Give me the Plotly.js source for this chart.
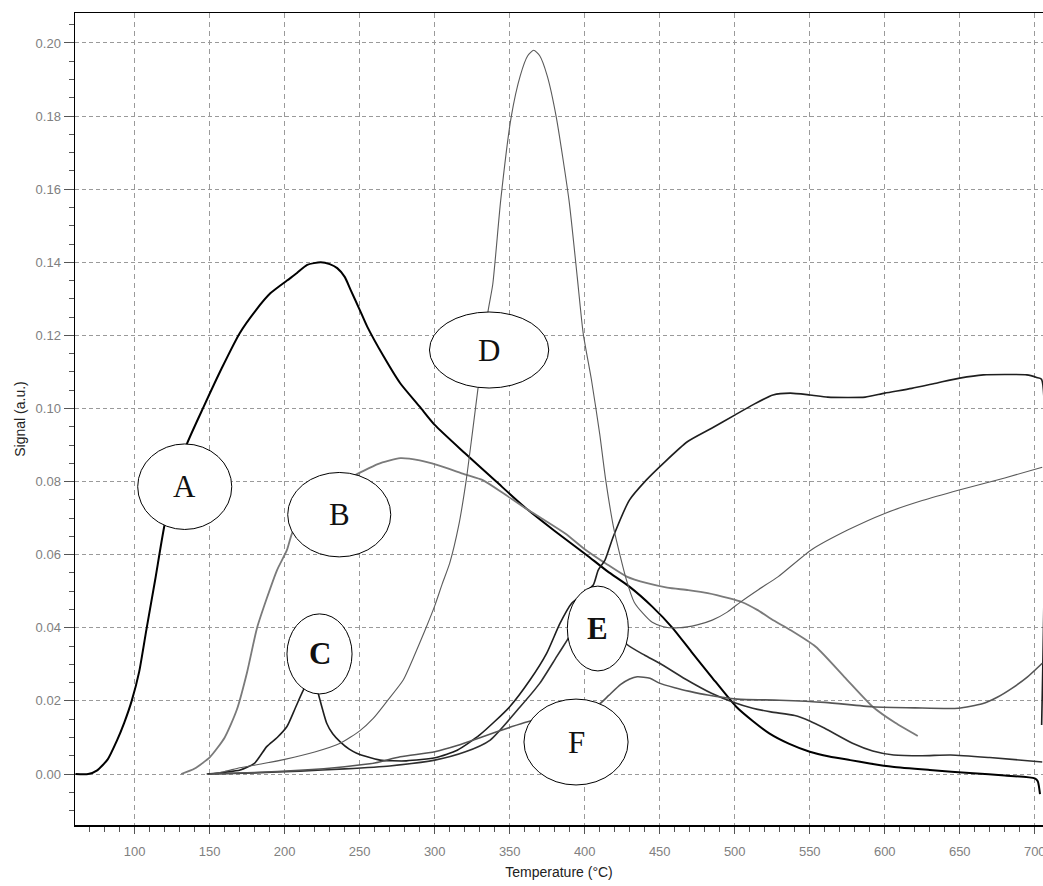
<!DOCTYPE html>
<html>
<head>
<meta charset="utf-8">
<script src="https://cdn.plot.ly/plotly-3.0.1.min.js"></script>
<style>html,body{margin:0;padding:0;background:#fff;}#chart{width:1043px;height:886px;}</style>
</head>
<body>
<div id="chart"></div>
<script>
// ---- data ----
const tA = [60.5,69,75,82,88,93,98,103,108,113.6,119.8,128,135,146,158,170,181,190.4,201.5,208,215,224,230,235,240,244,250,255,266,277,290,300,320,341,360,380,401,415,430,445,458.5,471,484.5,501,512,523,536,550,563,577,590,605,630,659,680,700,702,703.5];
const sA = [0,0,0.001,0.004,0.009,0.014,0.020,0.028,0.040,0.053,0.0679,0.082,0.0905,0.1005,0.111,0.1206,0.127,0.1315,0.135,0.137,0.1393,0.140,0.1395,0.1384,0.136,0.1324,0.127,0.1224,0.1142,0.1069,0.1005,0.0955,0.0878,0.080,0.073,0.0665,0.060,0.0555,0.0512,0.0458,0.040,0.0335,0.0266,0.0184,0.0145,0.0111,0.0083,0.0061,0.0048,0.0038,0.0029,0.002,0.0011,0.0002,-0.0004,-0.0012,-0.002,-0.0055];

const tB = [131,140,150.3,160,168,175,181.5,188,194.9,201.5,205,215,230,247,262,277,290,302,320,332,345,359,373,387,400,414,428,441.6,455,469,482,496,505,515,526,537,554,573,592,607,622];
const sB = [0,0.0015,0.0047,0.010,0.0175,0.028,0.0399,0.048,0.0558,0.0613,0.0660,0.073,0.079,0.0818,0.0848,0.0864,0.0858,0.0845,0.082,0.0804,0.077,0.0731,0.0695,0.0658,0.0615,0.0576,0.054,0.0522,0.051,0.0503,0.0495,0.0481,0.047,0.0449,0.042,0.0394,0.0348,0.0266,0.0184,0.014,0.0104];

const tC = [148,160,170.3,180,188,195,201.5,207,212.5,217,220,222.5,228,232,237,243,248,255,263.5,281,301,315,330,350,363.5,374.6,383.5,391.3,398,405.7,409,413.5,419,429.9,441,452.4,468.4,484.6,500,512,525.5,537,550,562,575,587,600,618,635,650,665.7,680,694.7,701.3,704.5,704.6];
const sC = [0,0.0005,0.0011,0.003,0.0075,0.0100,0.013,0.018,0.023,0.026,0.0255,0.0218,0.0139,0.011,0.0088,0.0068,0.0057,0.0047,0.0038,0.0036,0.0045,0.0065,0.0107,0.0184,0.0257,0.033,0.0412,0.0467,0.049,0.0517,0.0558,0.0585,0.0649,0.075,0.0804,0.085,0.0909,0.0946,0.0982,0.101,0.1037,0.1042,0.1037,0.1031,0.1030,0.1031,0.1042,0.1055,0.107,0.1083,0.1092,0.1093,0.1092,0.1085,0.108,0.0134];

const tD = [150,160,170,185,200,220,237,250,259,268,279,286,293.6,300,305,310,316,321,325,329,335.5,338.7,344,351,357,362,366,370,375,381,389.5,395,399,404.5,410,414,419.6,427.8,433,438.7,445,452.4,463,475,485,495,504,516,529,551,575.6,600,625,649.6,680,705];
const sD = [0,0.0007,0.0017,0.0028,0.0040,0.0060,0.0084,0.0118,0.0152,0.0198,0.0257,0.032,0.0394,0.046,0.052,0.0577,0.068,0.0804,0.093,0.106,0.1265,0.134,0.157,0.1798,0.191,0.1965,0.198,0.1965,0.191,0.1798,0.157,0.136,0.1205,0.1078,0.093,0.0804,0.0667,0.0531,0.047,0.044,0.0415,0.0403,0.040,0.0408,0.0421,0.0443,0.0471,0.0505,0.054,0.0613,0.0668,0.0713,0.0748,0.0777,0.081,0.0839];

const tE = [150,180,210,240,270,300,320,337,357,370,381.3,388.4,395,403,410,418,428,440,450,467,484.5,500,512,524,540,550,560,578.5,592,606,625,644,670,705];
const sE = [0,0.0003,0.0008,0.0014,0.0022,0.0038,0.006,0.0093,0.0184,0.0248,0.0321,0.0367,0.041,0.044,0.045,0.041,0.0355,0.0325,0.0303,0.026,0.0221,0.0195,0.018,0.017,0.016,0.0145,0.0125,0.0084,0.0063,0.0052,0.005,0.0052,0.0045,0.0033];

const tF = [150,180,210,240,260,277,300,315,332,351,362,380,398,410.2,416,424,430,435,443.5,449,460,470,482,501.7,530,560,592,620,649,665,675,685,695,705];
const sF = [0,0.0004,0.001,0.002,0.003,0.0047,0.0061,0.0078,0.0102,0.0129,0.0143,0.016,0.0175,0.0193,0.0215,0.0245,0.026,0.0266,0.0262,0.025,0.0236,0.0226,0.0216,0.0205,0.0202,0.0196,0.0184,0.0181,0.018,0.0192,0.021,0.0235,0.0265,0.0303];

const labelNames = ['A','B','C','D','E','F'];
const xTitle = 'Temperature (°C)';
const yTitle = 'Signal (a.u.)';

// ---- styling / label placement ----
const lineStyles = [
  {x:tA, y:sA, color:'#000000', width:2},
  {x:tB, y:sB, color:'#7a7a7a', width:1.8},
  {x:tC, y:sC, color:'#1e1e1e', width:1.6},
  {x:tD, y:sD, color:'#5a5a5a', width:1.1},
  {x:tE, y:sE, color:'#2e2e2e', width:1.6},
  {x:tF, y:sF, color:'#555555', width:1.6}
];
const traces = lineStyles.map((s,i)=>({
  type:'scatter', mode:'lines', x:s.x, y:s.y, name:labelNames[i],
  line:{color:s.color, width:s.width, shape:'spline', smoothing:0.6}, hoverinfo:'skip', cliponaxis:true
}));

// ellipse boxes [x0,x1,y0,y1], bold flags
const ellipses = [
  [102.0,164.7,0.0669,0.0903],
  [202.0,270.7,0.0594,0.0825],
  [201.5,244.9,0.0219,0.0438],
  [296.5,376.0,0.1056,0.1264],
  [388.4,429.1,0.0282,0.0514],
  [359.5,428.9,-0.0030,0.0205]
];
const bold = [false,false,true,false,true,false];

const shapes = ellipses.map(e=>({
  type:'circle', xref:'x', yref:'y', x0:e[0], x1:e[1], y0:e[2], y1:e[3],
  fillcolor:'#ffffff', line:{color:'#000000', width:1}, layer:'above'
}));
const annotations = labelNames.map((n,i)=>({
  xref:'x', yref:'y', x: (ellipses[i][0]+ellipses[i][1])/2, y:(ellipses[i][2]+ellipses[i][3])/2,
  text: bold[i] ? '<b>'+n+'</b>' : n, showarrow:false,
  font:{family:'Liberation Serif, Times New Roman, serif', size:31, color:'#111111'},
  xanchor:'center', yanchor:'middle'
}));

const layout = {
  width:1043, height:886,
  margin:{l:75, r:0, t:13, b:61, pad:0},
  paper_bgcolor:'#ffffff', plot_bgcolor:'#ffffff',
  showlegend:false,
  font:{family:'Liberation Sans, Arial, sans-serif', size:13, color:'#808080'},
  xaxis:{
    range:[60.2,705.5], tick0:0, dtick:50, ticks:'outside', ticklen:7, tickwidth:1, tickcolor:'#555555',
    ticklabelstandoff:7, ticklabeloverflow:'allow',
    showline:true, linecolor:'#000000', linewidth:1.5, mirror:true,
    showgrid:true, gridcolor:'#9a9a9a', gridwidth:1, griddash:'5px,4px', zeroline:false,
    minor:{dtick:10, tick0:0, ticks:'outside', ticklen:5, tickcolor:'#555555', showgrid:false},
    tickfont:{family:'Liberation Sans, Arial, sans-serif', size:13, color:'#808080'},
    title:{text:xTitle, font:{family:'Liberation Sans, Arial, sans-serif', size:14, color:'#222222'}, standoff:9}
  },
  yaxis:{
    range:[-0.01395,0.2082], tick0:0, dtick:0.02, tickformat:'.2f', ticks:'outside', ticklen:10, tickwidth:1, tickcolor:'#555555',
    showline:true, linecolor:'#000000', linewidth:1.5,
    showgrid:true, gridcolor:'#9a9a9a', gridwidth:1, griddash:'4px,3px', zeroline:false,
    minor:{dtick:0.005, tick0:0, ticks:'outside', ticklen:5, tickcolor:'#555555', showgrid:false},
    tickfont:{family:'Liberation Sans, Arial, sans-serif', size:13, color:'#808080'},
    title:{text:yTitle, font:{family:'Liberation Sans, Arial, sans-serif', size:14, color:'#222222'}, standoff:6}
  },
  shapes:shapes,
  annotations:annotations
};

Plotly.newPlot('chart', traces, layout, {staticPlot:true, displayModeBar:false});
</script>
</body>
</html>
